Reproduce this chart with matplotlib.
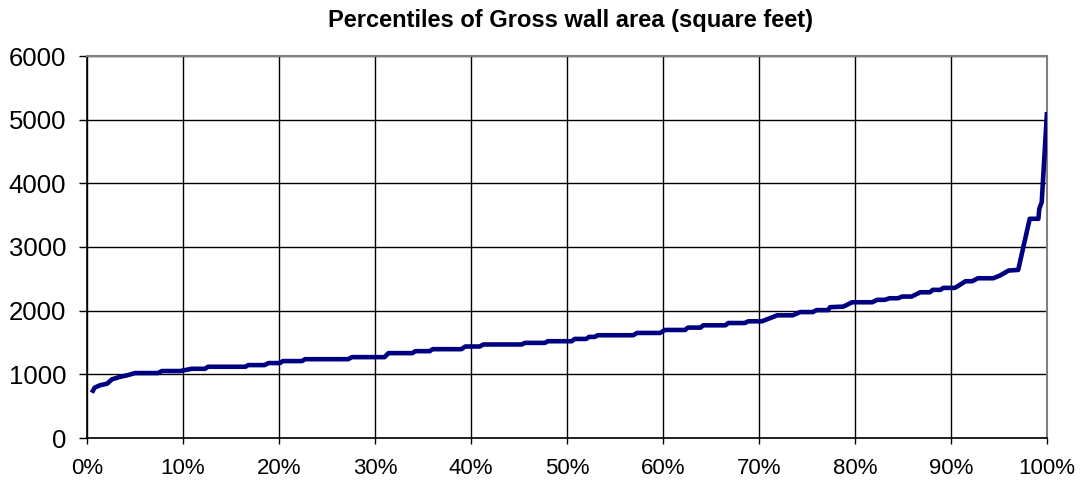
import matplotlib
matplotlib.use("Agg")
import matplotlib.pyplot as plt
from matplotlib.ticker import FuncFormatter

# Percentile (%) and gross wall area (square feet)
percentile = [0.5, 0.8, 1.35, 2.1, 2.6, 3.4, 4.3, 5.0, 7.4, 7.8, 9.7, 10.9, 12.3, 12.6, 16.5,
              16.8, 18.5, 18.9, 20.1, 20.4, 22.4, 22.7, 27.2, 27.6, 31.0, 31.4, 33.9, 34.2,
              35.7, 36.0, 39.0, 39.4, 40.9, 41.3, 45.3, 45.6, 47.7, 48.0, 50.5, 50.8, 52.0,
              52.3, 52.9, 53.2, 56.9, 57.3, 59.7, 60.2, 62.3, 62.6, 63.9, 64.2, 66.5, 66.8,
              68.5, 68.9, 70.3, 71.9, 73.5, 74.3, 75.6, 76.0, 77.2, 77.4, 78.8, 79.7, 81.8,
              82.3, 83.1, 83.6, 84.5, 84.9, 85.9, 86.8, 87.8, 88.1, 88.9, 89.2, 90.4, 90.7,
              91.5, 92.2, 92.8, 94.4, 95.1, 96.0, 97.0, 98.2, 99.1, 99.2, 99.45, 100.0]
wall_area = [712, 791, 828, 853, 922, 958, 989, 1020, 1020, 1052, 1052, 1087, 1087, 1119, 1119,
             1145, 1145, 1177, 1177, 1208, 1208, 1238, 1238, 1270, 1270, 1333, 1333, 1364,
             1364, 1395, 1395, 1437, 1437, 1469, 1469, 1494, 1494, 1520, 1520, 1556, 1556,
             1588, 1588, 1614, 1614, 1650, 1650, 1697, 1697, 1734, 1734, 1770, 1770, 1806,
             1806, 1833, 1833, 1927, 1927, 1978, 1978, 2009, 2009, 2055, 2064, 2132, 2132,
             2170, 2170, 2195, 2195, 2222, 2222, 2289, 2289, 2327, 2327, 2358, 2358, 2384,
             2462, 2462, 2509, 2509, 2552, 2630, 2640, 3443, 3443, 3600, 3704, 5120]

x_ticks = [0, 10, 20, 30, 40, 50, 60, 70, 80, 90, 100]
y_ticks = [0, 1000, 2000, 3000, 4000, 5000, 6000]
title = "Percentiles of Gross wall area (square feet)"

plt.rcParams['font.family'] = ['Liberation Sans', 'DejaVu Sans']

fig = plt.figure(figsize=(10.82, 4.82), dpi=100)
ax = fig.add_axes([87 / 1082, 1 - 438 / 482, (1047 - 87) / 1082, (438 - 56) / 482])

ax.plot(percentile, wall_area, color='#000080', linewidth=3.3, solid_joinstyle='round',
        solid_capstyle='butt', zorder=3)

ax.set_xlim(0, 100)
ax.set_ylim(0, 6000)
ax.set_xticks(x_ticks)
ax.set_yticks(y_ticks)
ax.xaxis.set_major_formatter(FuncFormatter(lambda v, p: f"{int(round(v))}%"))
ax.grid(True, color='black', linewidth=1.0, zorder=1)

for s in ['left', 'bottom']:
    ax.spines[s].set_color('black')
    ax.spines[s].set_linewidth(1.2)
for s in ['top', 'right']:
    ax.spines[s].set_color('#808080')
    ax.spines[s].set_linewidth(1.5)

ax.tick_params(axis='y', direction='out', length=5.5, width=1, pad=9.5, labelsize=18.5, colors='black')
ax.tick_params(axis='x', direction='out', length=4.3, width=1, pad=10, labelsize=16, colors='black')

fig.text(571 / 1082, 1 - 20 / 482, title, ha='center', va='center',
         fontsize=17, fontweight='bold')

fig.savefig('out.png', dpi=100)
